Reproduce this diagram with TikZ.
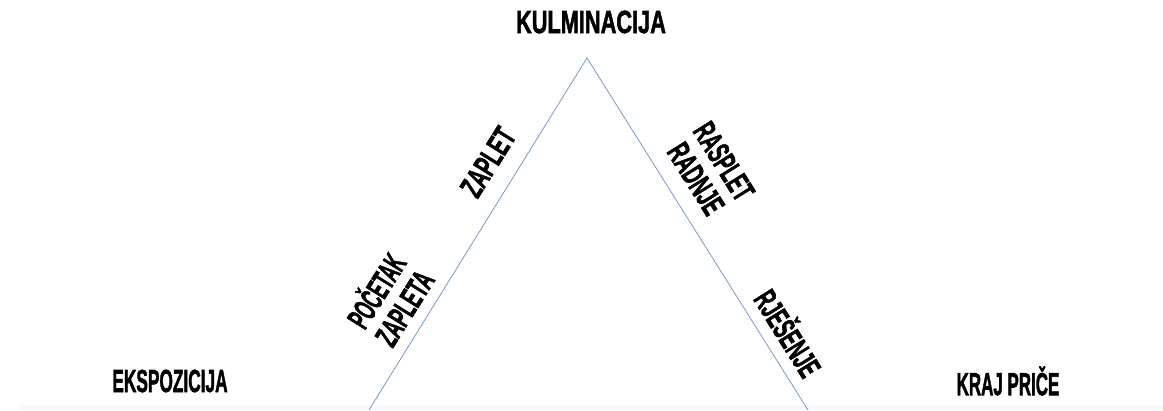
\documentclass[tikz,border=0pt]{standalone}
\usepackage{fontspec}
\usepackage{graphicx}
\newfontfamily\lblfont[FakeBold=2]{Liberation Sans}
\newcommand\sx[2]{\scalebox{#1}[1]{#2}}
\definecolor{linec}{RGB}{120,155,195}
\definecolor{stripc}{RGB}{244,250,252}
\begin{document}
\begin{tikzpicture}[x=1pt,y=-1pt,
  lbl/.style={inner sep=0pt, align=center, font=\lblfont\bfseries\fontsize{32}{33}\selectfont},
  side/.style={draw=linec, line width=0.8pt}]
\useasboundingbox (0,0) rectangle (1163,410);
\fill[white] (0,0) rectangle (1163,410);
\fill[stripc] (20,405) rectangle (1163,410);
\coordinate (apex) at (587,58);
\coordinate (bl) at (369,410);
\coordinate (br) at (808,410);
\draw[side] (bl) -- (apex) -- (br);
\node[lbl] (kulm) at (591,22) {\sx{0.68}{KULMINACIJA}};
\node[lbl] (eksp) at (170,381) {\sx{0.54}{EKSPOZICIJA}};
\node[lbl] (kraj) at (1008,381) {\sx{0.53}{KRAJ PRIČE}};
\node[lbl, rotate=58] (zaplet) at (488,162) {\sx{0.60}{ZAPLET}};
\node[lbl, rotate=58] (pocetak) at (388,298) {\sx{0.52}{POČETAK}\\\sx{0.56}{ZAPLETA}};
\node[lbl, rotate=-58] (rasplet) at (710,170) {\sx{0.57}{RASPLET}\\\sx{0.59}{RADNJE}};
\node[lbl, rotate=-58] (rjesenje) at (790,332) {\sx{0.57}{RJEŠENJE}};
\end{tikzpicture}
\end{document}
